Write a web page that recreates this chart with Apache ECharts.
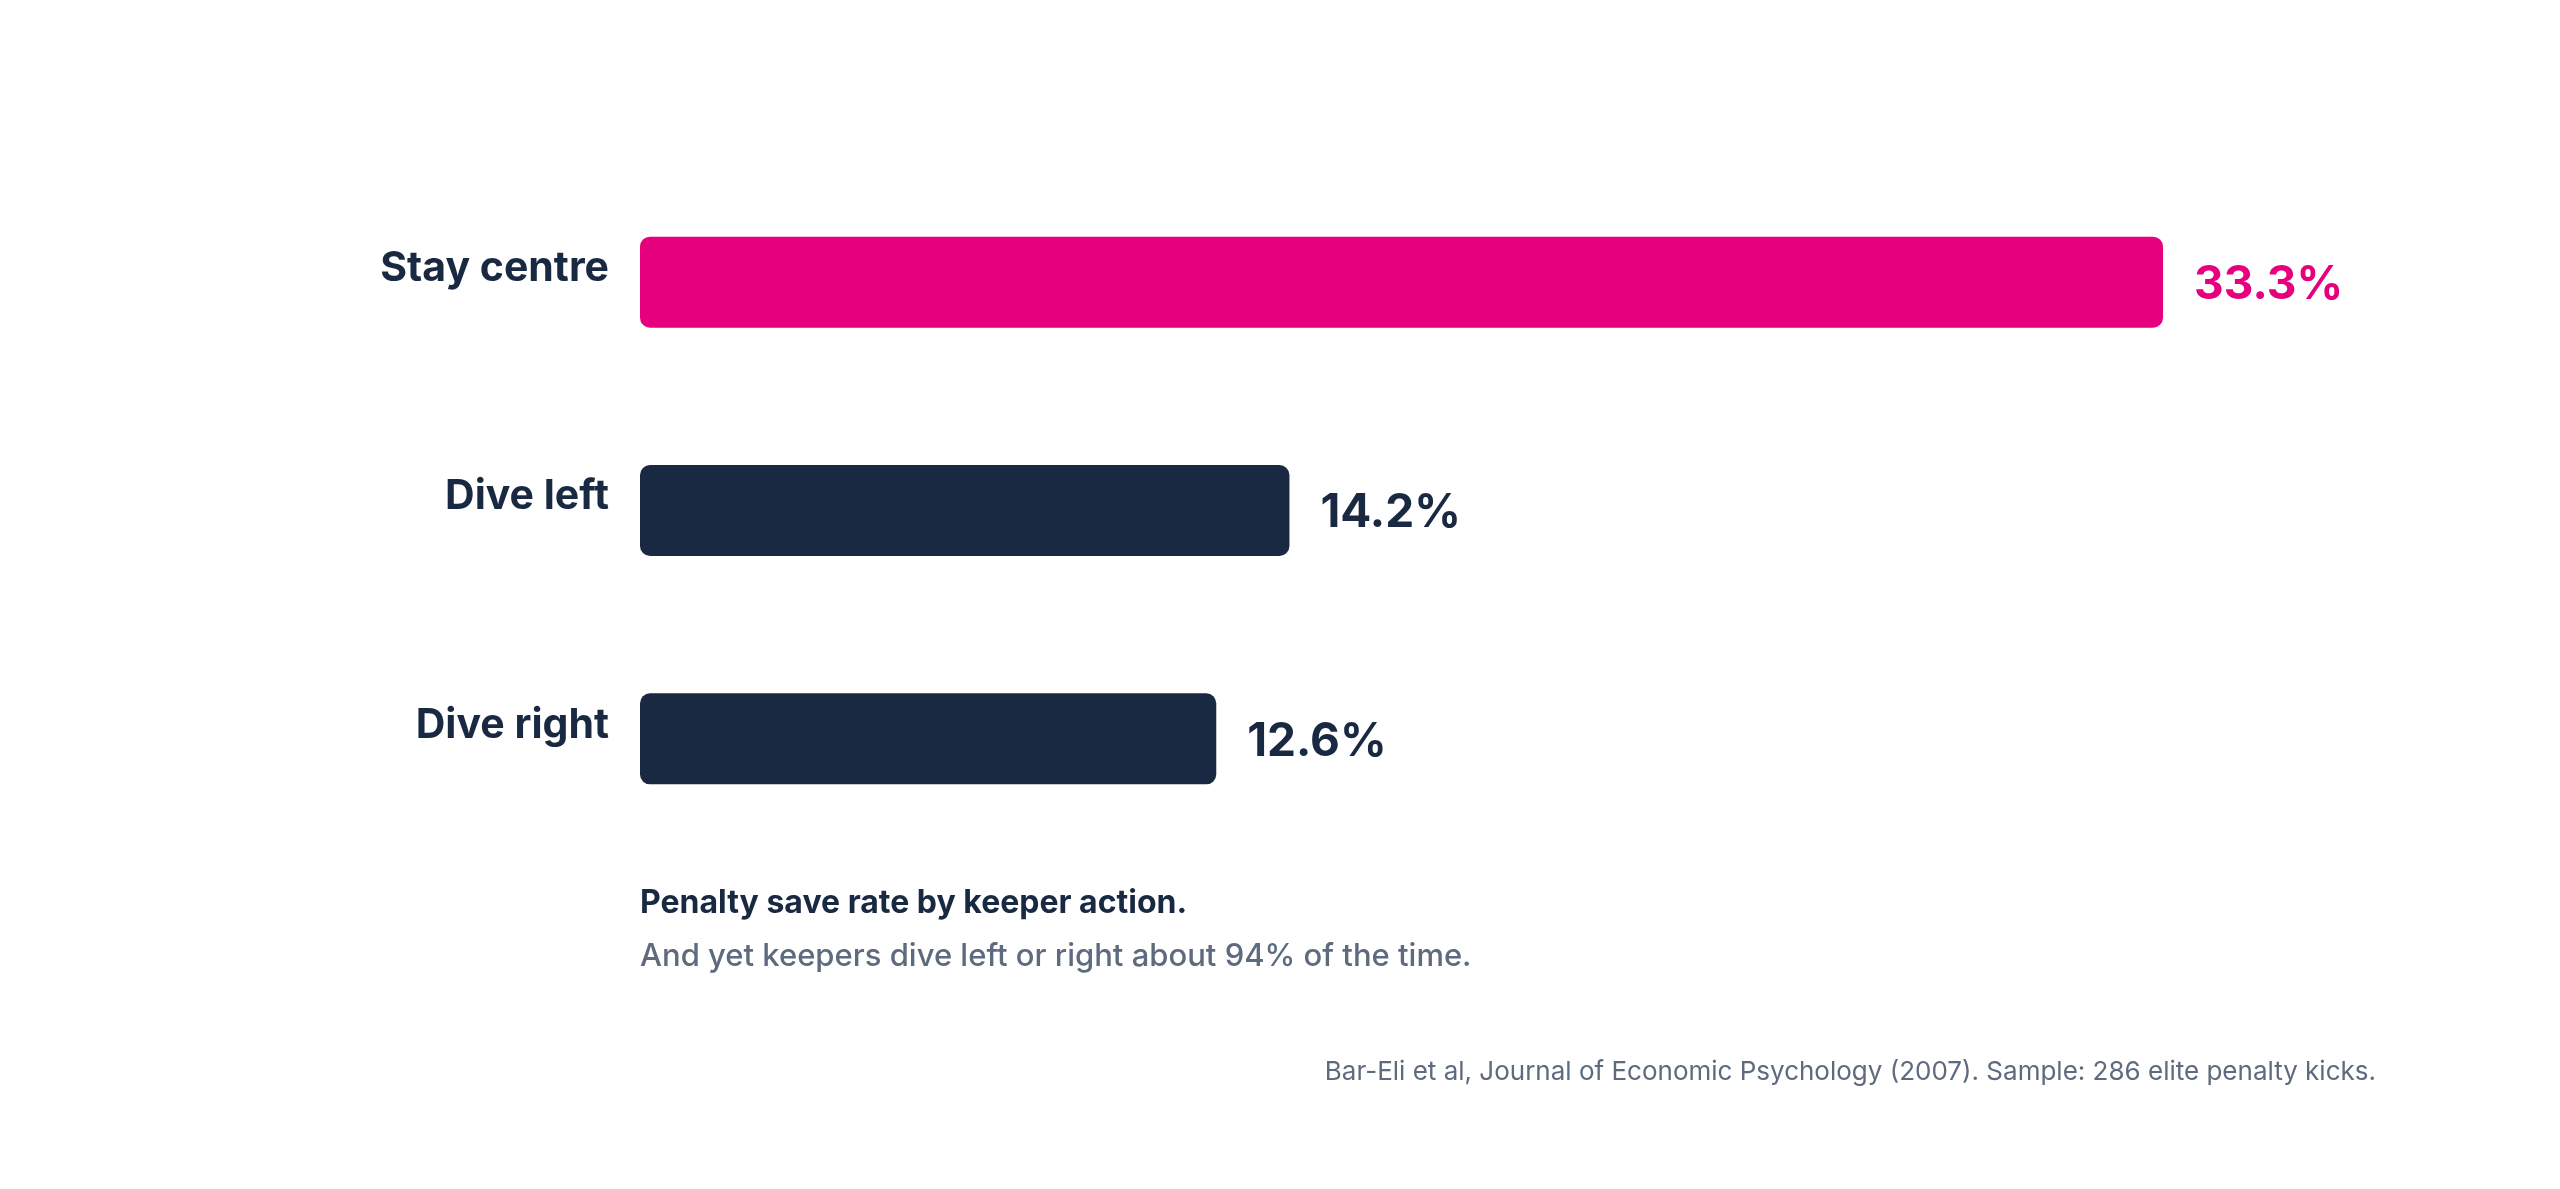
<!DOCTYPE html>
<html>
<head>
<meta charset="utf-8">
<script src="https://cdn.jsdelivr.net/npm/echarts@6/dist/echarts.min.js"></script>
<style>
  html, body { margin: 0; padding: 0; background: #ffffff; }
  #chart { width: 2560px; height: 1189px; }
</style>
</head>
<body>
<div id="chart"></div>
<script>
// data
const actions = ['Stay centre', 'Dive left', 'Dive right'];
const saveRates = [33.3, 14.2, 12.6];
const barColors = ['#E6007E', '#1A2942', '#1A2942'];

const NAVY = '#1A2942';
const GREY = '#5E6A7E';
const FONT = 'Inter, "Noto Sans", sans-serif';

var chart = echarts.init(document.getElementById('chart'));

let option = {
    backgroundColor: '#ffffff',
    animation: false,
    grid: {
        left: 640,
        right: 397,
        top: 168,
        bottom: 336,
        containLabel: false,
    },
    xAxis: {
        type: 'value',
        min: 0,
        max: 33.3,
        show: false,
    },
    yAxis: {
        type: 'category',
        data: actions,
        inverse: true,
        axisLine: { show: false },
        axisTick: { show: false },
        splitLine: { show: false },
        axisLabel: {
            margin: 31,
            color: NAVY,
            fontFamily: FONT,
            fontSize: 41,
            fontWeight: 'bold',
            // labels sit a little above the bar centre
            verticalAlign: 'bottom',
            lineHeight: 27,
        },
    },
    series: [
        {
            type: 'bar',
            barWidth: 91,
            data: saveRates.map((v, i) => ({
                value: v,
                itemStyle: { color: barColors[i] },
                label: { color: barColors[i] },
            })),
            itemStyle: { borderRadius: 10 },
            label: {
                show: true,
                position: 'right',
                distance: 31,
                offset: [0, 3],
                fontFamily: FONT,
                fontSize: 46,
                fontWeight: 'bold',
                formatter: p => p.value.toFixed(1) + '%',
            },
        },
    ],
    graphic: [
        {
            type: 'text',
            left: 640,
            top: 887,
            style: {
                text: 'Penalty save rate by keeper action.',
                fill: NAVY,
                font: 'bold 32px ' + FONT,
            },
        },
        {
            type: 'text',
            left: 640,
            top: 941,
            style: {
                text: 'And yet keepers dive left or right about 94% of the time.',
                fill: GREY,
                font: '500 31px ' + FONT,
            },
        },
        {
            type: 'text',
            right: 184,
            top: 1059,
            style: {
                text: 'Bar-Eli et al, Journal of Economic Psychology (2007). Sample: 286 elite penalty kicks.',
                fill: GREY,
                font: '26px ' + FONT,
            },
        },
    ],
};

chart.setOption(option);
</script>
</body>
</html>
